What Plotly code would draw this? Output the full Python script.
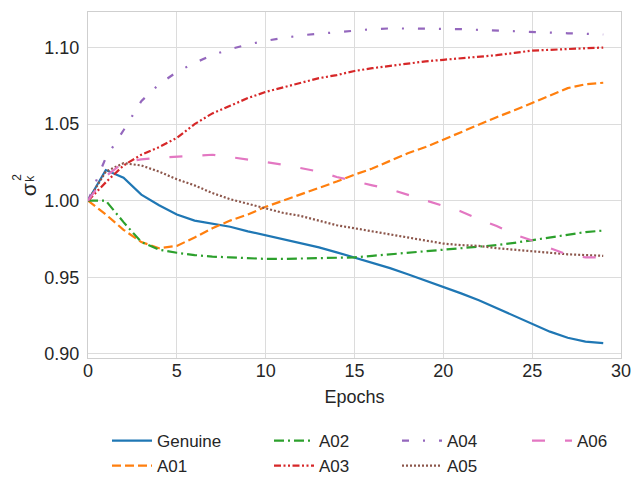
import plotly.graph_objects as go

# Variance of the k-th component over training epochs, per condition
epochs = list(range(30))

genuine = [1.000, 1.020, 1.015, 1.004, 0.997, 0.991, 0.987, 0.985, 0.983, 0.980,
           0.9775, 0.975, 0.9725, 0.9695, 0.9663, 0.963, 0.9595, 0.956, 0.952, 0.948,
           0.944, 0.9395, 0.935, 0.930, 0.925, 0.920, 0.9145, 0.9105, 0.908, 0.907]
a01 = [1.000, 0.991, 0.981, 0.973, 0.969, 0.9705, 0.976, 0.982, 0.987, 0.991,
       0.996, 1.000, 1.004, 1.008, 1.0125, 1.017, 1.021, 1.026, 1.031, 1.035,
       1.040, 1.045, 1.050, 1.0545, 1.059, 1.064, 1.069, 1.0735, 1.076, 1.077]
a02 = [1.000, 1.000, 0.986, 0.973, 0.968, 0.966, 0.9645, 0.9635, 0.963, 0.9625,
       0.962, 0.962, 0.9622, 0.9625, 0.9628, 0.963, 0.964, 0.965, 0.966, 0.967,
       0.9678, 0.969, 0.970, 0.971, 0.9725, 0.9743, 0.976, 0.978, 0.9795, 0.9805]
a03 = [1.000, 1.012, 1.023, 1.030, 1.035, 1.041, 1.050, 1.057, 1.062, 1.067,
       1.071, 1.074, 1.077, 1.080, 1.082, 1.0847, 1.0865, 1.088, 1.0895, 1.091,
       1.092, 1.093, 1.094, 1.095, 1.0965, 1.098, 1.0985, 1.099, 1.0995, 1.100]
a04 = [1.000, 1.028, 1.046, 1.065, 1.076, 1.084, 1.090, 1.095, 1.099, 1.102,
       1.1044, 1.106, 1.108, 1.109, 1.110, 1.111, 1.112, 1.1125, 1.1125, 1.1125,
       1.1122, 1.112, 1.1115, 1.111, 1.1105, 1.110, 1.1098, 1.1093, 1.109, 1.1085]
a05 = [1.000, 1.019, 1.0245, 1.023, 1.019, 1.014, 1.010, 1.005, 1.001, 0.998,
       0.995, 0.992, 0.990, 0.987, 0.984, 0.982, 0.980, 0.978, 0.976, 0.974,
       0.972, 0.971, 0.9705, 0.969, 0.968, 0.967, 0.966, 0.965, 0.9645, 0.964]
a06 = [1.000, 1.016, 1.025, 1.027, 1.028, 1.0287, 1.0295, 1.030, 1.0285, 1.027,
       1.0252, 1.0235, 1.021, 1.019, 1.0155, 1.0125, 1.010, 1.0075, 1.004, 1.000,
       0.997, 0.993, 0.988, 0.9835, 0.978, 0.974, 0.969, 0.9647, 0.963, 0.963]

x_ticks = [0, 5, 10, 15, 20, 25, 30]
y_ticks = [0.90, 0.95, 1.00, 1.05, 1.10]

# name, values, colour, dash pattern, legend column
series = [
    ("Genuine", genuine, "#1f77b4", "solid", "legend"),
    ("A01", a01, "#ff7f0e", "9px,4px", "legend"),
    ("A02", a02, "#2ca02c", "10px,4px,2px,4px", "legend2"),
    ("A03", a03, "#d62728", "7px,2.5px,2px,2.5px,2px,2.5px", "legend2"),
    ("A04", a04, "#9467bd", "7px,14px,2px,14px", "legend3"),
    ("A05", a05, "#8c564b", "2px,2px", "legend3"),
    ("A06", a06, "#e377c2", "13px,20px", "legend4"),
]

FONT = "Liberation Sans, Arial, sans-serif"

fig = go.Figure()
for name, vals, color, dash, leg in series:
    fig.add_trace(go.Scatter(
        x=epochs, y=vals, mode="lines", name=name, legend=leg,
        line=dict(color=color, width=2.2, dash=dash),
    ))

grid = "#dcdcdc"
frame = "#cfcfcf"
fig.update_xaxes(
    range=[0, 30], tickvals=x_ticks, ticktext=[str(v) for v in x_ticks],
    showgrid=True, gridcolor=grid, gridwidth=1, zeroline=False,
    showline=True, linecolor=frame, linewidth=1, mirror=True,
    ticks="", tickfont=dict(size=18, color="#262626"), ticklabelstandoff=-4,
    title=dict(text="Epochs", font=dict(size=18, color="#262626"), standoff=10),
)
fig.update_yaxes(
    range=[0.8973, 1.1232], tickvals=y_ticks, ticktext=[f"{v:.2f}" for v in y_ticks],
    showgrid=True, gridcolor=grid, gridwidth=1, zeroline=False,
    showline=True, linecolor=frame, linewidth=1, mirror=True,
    ticks="", tickfont=dict(size=18, color="#262626"), ticklabelstandoff=4,
)

# y-axis label: sigma with stacked superscript 2 and subscript k
lab_font = dict(family=FONT, color="#262626")
lab_common = dict(xref="paper", yref="paper", showarrow=False, textangle=-90,
                  xanchor="center", yanchor="middle")
fig.add_annotation(text="σ", x=-0.1126, y=0.488, font=dict(size=21, **lab_font), **lab_common)
fig.add_annotation(text="2", x=-0.133, y=0.521, font=dict(size=12, **lab_font), **lab_common)
fig.add_annotation(text="k", x=-0.109, y=0.521, font=dict(size=12, **lab_font), **lab_common)

leg_common = dict(
    orientation="v", xanchor="left", yanchor="top", y=-0.188,
    bgcolor="rgba(0,0,0,0)", borderwidth=0,
    font=dict(size=17, color="#262626", family=FONT),
    itemwidth=40, tracegroupgap=0,
)
fig.update_layout(
    width=644, height=478,
    margin=dict(l=88, r=23, t=12, b=120, autoexpand=False),
    paper_bgcolor="white", plot_bgcolor="white",
    font=dict(family=FONT, color="#262626"),
    showlegend=True,
    legend=dict(x=(107 - 88) / 533, **leg_common),
    legend2=dict(x=(269 - 88) / 533, **leg_common),
    legend3=dict(x=(397 - 88) / 533, **leg_common),
    legend4=dict(x=(527 - 88) / 533, **leg_common),
)

fig.write_html("out.html")
